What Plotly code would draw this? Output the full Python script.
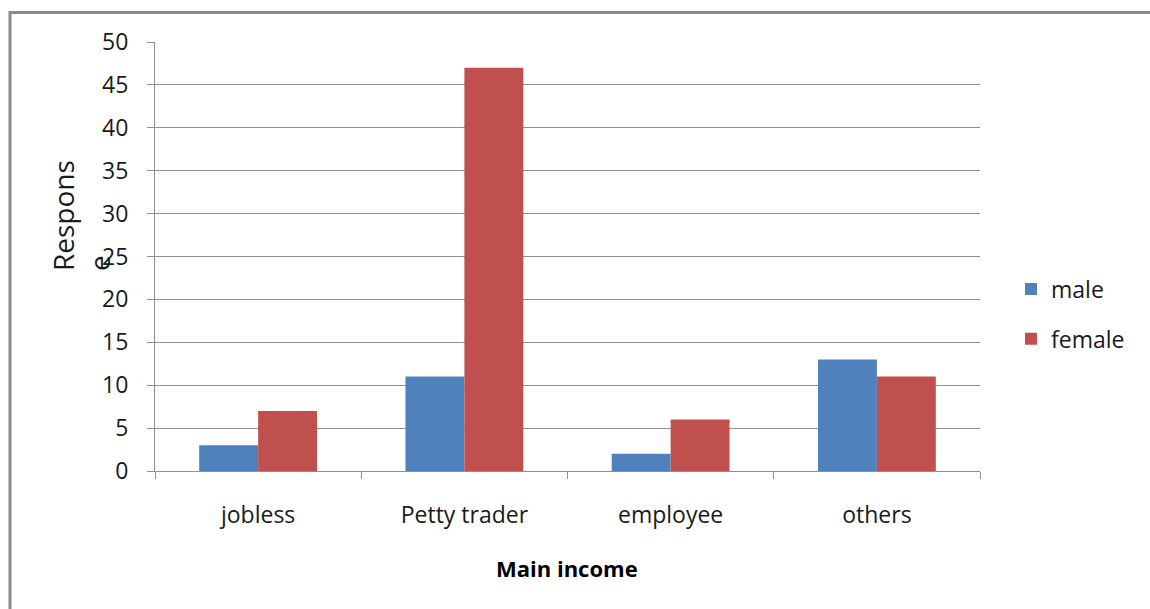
import plotly.graph_objects as go

categories = ["jobless", "Petty trader", "employee", "others"]
male = [3, 11, 2, 13]
female = [7, 47, 6, 11]
y_ticks = [0, 5, 10, 15, 20, 25, 30, 35, 40, 45, 50]

W, H = 1150, 609
L, R, T, B = 155, 170, 42, 138
pw, ph = W - L - R, H - T - B

def px(x):
    return (x - L) / pw

def py(y):
    return (H - B - y) / ph

FONT = "Open Sans"
TXT = "#1a1a1a"
GRID = "#8f8f8f"

fig = go.Figure()
fig.add_trace(go.Bar(name="male", x=categories, y=male, marker=dict(color="#4F81BD", line=dict(width=0)),
                     legendgroup="m"))
fig.add_trace(go.Bar(name="female", x=categories, y=female, marker=dict(color="#C0504D", line=dict(width=0)),
                     legendgroup="f"))

fig.update_layout(
    width=W, height=H,
    margin=dict(l=L, r=R, t=T, b=B, autoexpand=False),
    paper_bgcolor="white", plot_bgcolor="white",
    barmode="group", bargap=0.4286, bargroupgap=0,
    font=dict(family=FONT, size=23, color=TXT),
    legend=dict(x=px(1011), y=py(314), xanchor="left", yanchor="middle",
                traceorder="grouped", tracegroupgap=17,
                font=dict(family=FONT, size=23, color=TXT),
                bgcolor="rgba(0,0,0,0)", itemwidth=30),
    xaxis=dict(showline=True, linecolor=GRID, linewidth=1,
               ticks="outside", tickson="boundaries", ticklen=7, tickcolor=GRID,
               tickfont=dict(family=FONT, size=23, color=TXT), ticklabelstandoff=23,
               showgrid=False, zeroline=False),
    yaxis=dict(range=[0, 50], tickvals=y_ticks, showline=True, linecolor=GRID, linewidth=1,
               ticks="outside", ticklen=7, tickcolor=GRID,
               showgrid=True, gridcolor=GRID, gridwidth=1, zeroline=False,
               tickfont=dict(family=FONT, size=23, color=TXT), ticklabelstandoff=14),
    showlegend=True,
)

fig.add_annotation(text="Main income", xref="paper", yref="paper", x=px(567), y=py(568),
                   showarrow=False, xanchor="center", yanchor="middle",
                   font=dict(family=FONT, size=22, color="black", weight="bold"))
fig.add_annotation(text="Respons<br>e", xref="paper", yref="paper", x=px(81), y=py(216),
                   showarrow=False, textangle=-90, align="left", xanchor="center", yanchor="middle",
                   font=dict(family=FONT, size=28, color=TXT))

# outer frame (left and top edges)
fig.add_shape(type="line", xref="paper", yref="paper", x0=px(10), x1=px(W + 5), y0=py(12.5), y1=py(12.5),
              line=dict(color="#8a8a8a", width=3))
fig.add_shape(type="line", xref="paper", yref="paper", x0=px(10), x1=px(10), y0=py(11), y1=py(H + 5),
              line=dict(color="#8a8a8a", width=3))

fig.write_html("out.html")
